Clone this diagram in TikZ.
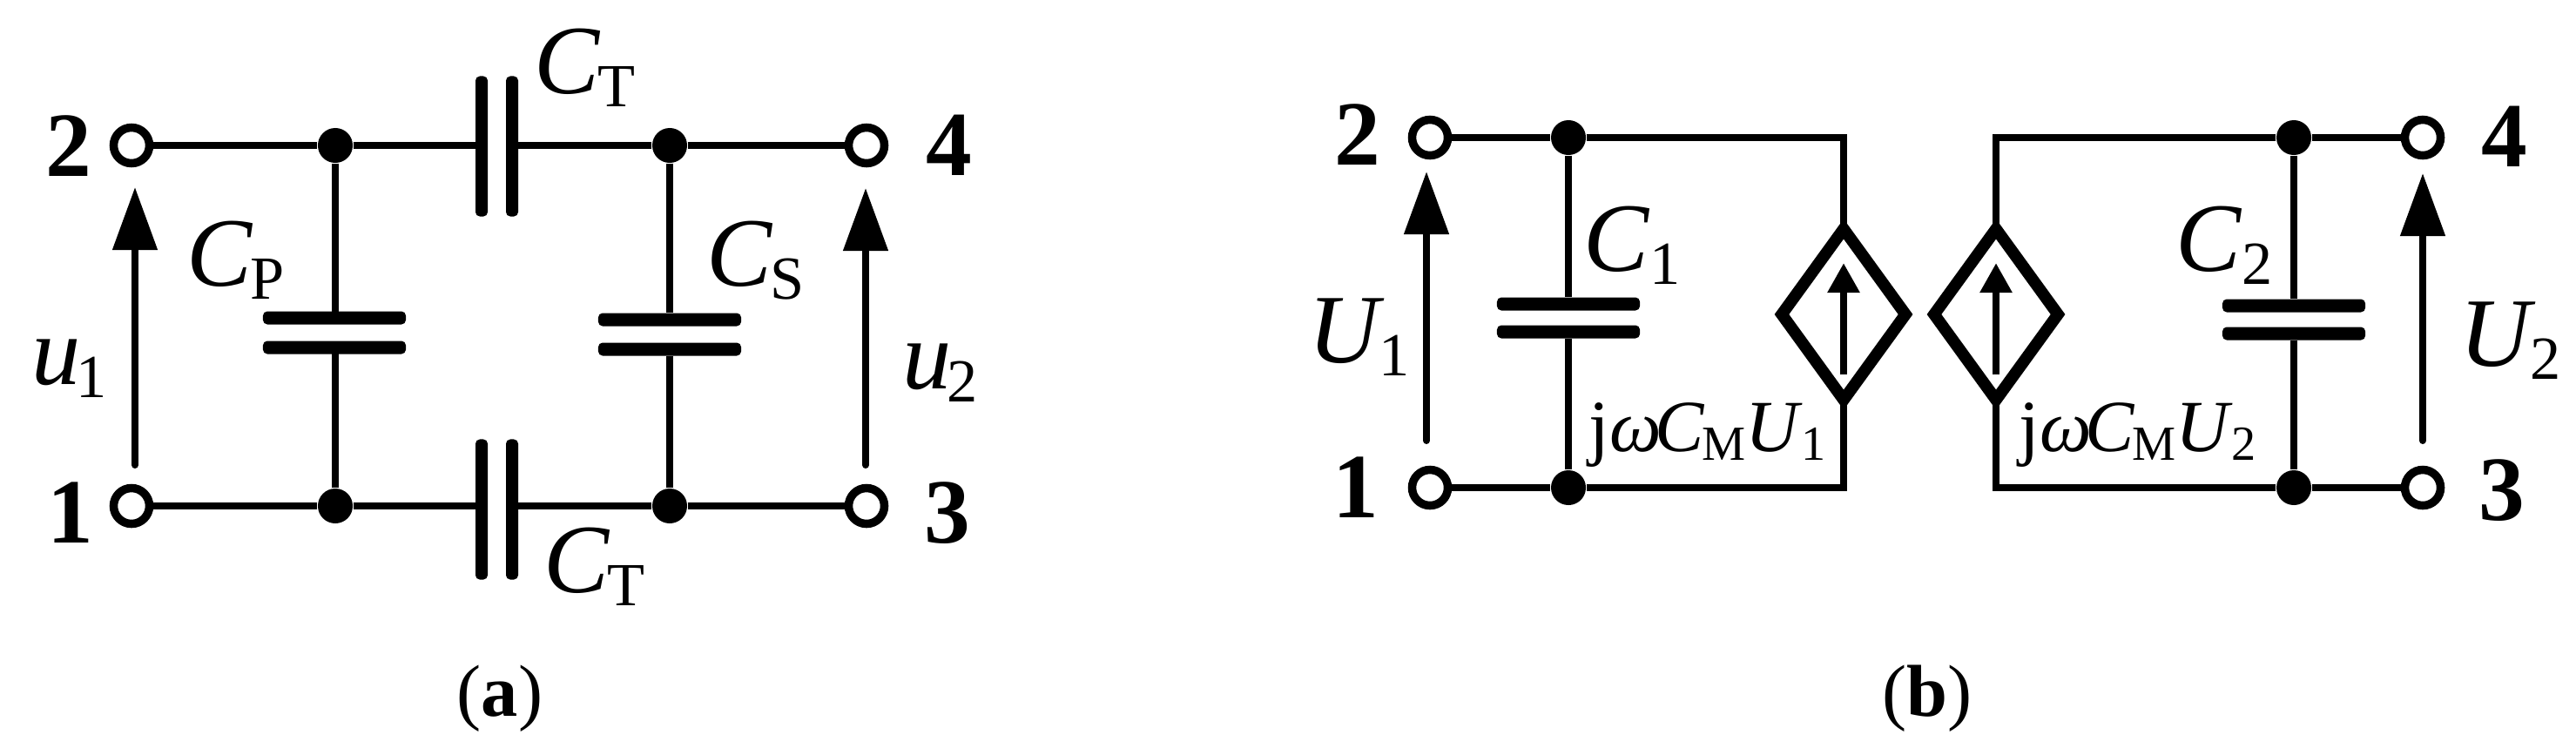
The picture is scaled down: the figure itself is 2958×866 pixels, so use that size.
\documentclass[tikz,border=0pt]{standalone}
\usepackage{fontspec}
\setmainfont{Liberation Serif}
\usetikzlibrary{arrows.meta,shapes.geometric}
\newcommand{\lab}[2]{{\fontsize{32}{32}\selectfont\textit{#1}\kern-1pt\raisebox{-4.3pt}{\fontsize{20}{20}\selectfont #2}}}
\newcommand{\labit}[3][0pt]{{\fontsize{32}{32}\selectfont\textit{#2}\kern#1\raisebox{-4.3pt}{\fontsize{20}{20}\selectfont #3}}}
\newcommand{\src}[1]{{\fontsize{24}{24}\selectfont j\textit{ω}\kern-2pt\textit{C}\kern-1pt\raisebox{-3pt}{\fontsize{16}{16}\selectfont M}\textit{U}\kern-0.5pt\raisebox{-3pt}{\fontsize{16}{16}\selectfont #1}}}
\tikzset{
  wire/.style={line width=0.085cm},
  volt/.style={line width=0.08cm,line cap=round,-{Triangle[length=0.72cm,width=0.5cm]}},
  dot/.style={circle,fill,inner sep=0pt,minimum size=0.40cm},
  term/.style={circle,draw,fill=white,line width=0.095cm,inner sep=0pt,minimum size=0.41cm},
  plateh/.style={rectangle,fill,rounded corners=0.05cm,inner sep=0pt,minimum width=1.64cm,minimum height=0.15cm},
  platev/.style={rectangle,fill,rounded corners=0.05cm,inner sep=0pt,minimum width=0.14cm,minimum height=1.61cm},
  source/.style={diamond,draw,line width=0.135cm,inner sep=0pt,outer sep=0pt,minimum width=1.42cm,minimum height=1.96cm},
  txt/.style={anchor=base west,inner sep=0pt},
  num/.style={anchor=base west,inner sep=0pt,font=\fontsize{30}{30}\selectfont\bfseries},
  capt/.style={anchor=base,inner sep=0pt,font=\fontsize{24}{24}\selectfont}
}
\begin{document}
\begin{tikzpicture}[x=0.01cm,y=-0.01cm]
    \useasboundingbox (0,0) rectangle (2958,866);

    % circuit (a)
    \node (a2) at (151,167) [term] {};
    \node (a1) at (151,581) [term] {};
    \node (a4) at (995,167) [term] {};
    \node (a3) at (995,581) [term] {};
    \node (jp) at (385,167) [dot] {};
    \node (jq) at (385,581) [dot] {};
    \node (js) at (769,167) [dot] {};
    \node (jt) at (769,581) [dot] {};
    \node (ta) at (553,168) [platev] {};
    \node (tb) at (588,168) [platev] {};
    \node (ba) at (553,585) [platev] {};
    \node (bb) at (588,585) [platev] {};
    \node (pa) at (384,365) [plateh] {};
    \node (pb) at (384,399) [plateh] {};
    \node (sa) at (769,367) [plateh] {};
    \node (sb) at (769,401) [plateh] {};
    \coordinate (ua) at (155,534);
    \coordinate (ub) at (155,215);
    \coordinate (uc) at (994,534);
    \coordinate (ud) at (994,216);

    \draw [wire] (a2) -- (jp) (jp) -- (ta |- jp) (tb |- js) -- (js) (js) -- (a4);
    \draw [wire] (a1) -- (jq) (jq) -- (ba |- jq) (bb |- jt) -- (jt) (jt) -- (a3);
    \draw [wire] (jp) -- (jp |- pa) (jq |- pb) -- (jq);
    \draw [wire] (js) -- (sa) (sb) -- (jt);
    \draw [volt] (ua) -- (ub);
    \draw [volt] (uc) -- (ud);

    \node (n2) at (52,202) [num] {2};
    \node (n1) at (54,623) [num] {1};
    \node (n4) at (1063,201) [num] {4};
    \node (n3) at (1061,623) [num] {3};
    \node (ct) at (613,107) [txt] {\lab{C}{T}};
    \node (cb) at (624,680) [txt] {\lab{C}{T}};
    \node (cp) at (214,328) [txt] {\lab{C}{P}};
    \node (cs) at (811,328) [txt] {\lab{C}{S}};
    \node (u1) at (36,441) [txt] {\labit[-1.5pt]{u}{1}};
    \node (u2) at (1036,446) [txt] {\labit[-1.5pt]{u}{2}};
    \node (capa) at (574,822) [capt] {(\textbf{a})};

    % circuit (b)
    \node (b2) at (1642,158) [term] {};
    \node (b1) at (1642,560) [term] {};
    \node (b4) at (2782,158) [term] {};
    \node (b3) at (2782,560) [term] {};
    \node (jc) at (1801,158) [dot] {};
    \node (jd) at (1801,560) [dot] {};
    \node (je) at (2634,158) [dot] {};
    \node (jf) at (2634,560) [dot] {};
    \node (ca) at (1801,349) [plateh] {};
    \node (cc) at (1801,381) [plateh] {};
    \node (da) at (2634,351) [plateh] {};
    \node (dc) at (2634,383) [plateh] {};
    \node (sl) at (2117,361) [source] {};
    \node (sr) at (2292,361) [source] {};
    \coordinate (va) at (1638,506);
    \coordinate (vb) at (1638,197);
    \coordinate (vc) at (2782,506);
    \coordinate (vd) at (2782,199);
    \coordinate (ia) at (2117,430);
    \coordinate (ib) at (2117,302);
    \coordinate (ic) at (2292,430);
    \coordinate (id) at (2292,302);

    \draw [wire] (b2) -- (jc) (b1) -- (jd);
    \draw [wire] (jc) -| (sl.north);
    \draw [wire] (sl.south) |- (jd);
    \draw [wire] (b4) -- (je) (b3) -- (jf);
    \draw [wire] (je) -| (sr.north);
    \draw [wire] (sr.south) |- (jf);
    \draw [wire] (jc) -- (ca) (cc) -- (jd);
    \draw [wire] (je) -- (da) (dc) -- (jf);
    \draw [volt] (va) -- (vb);
    \draw [volt] (vc) -- (vd);
    \draw [wire,-{Triangle[length=0.34cm,width=0.35cm]}] (ia) -- (ib);
    \draw [wire,-{Triangle[length=0.34cm,width=0.35cm]}] (ic) -- (id);

    \node (m2) at (1532,189) [num] {2};
    \node (m1) at (1530,594) [num] {1};
    \node (m4) at (2849,191) [num] {4};
    \node (m3) at (2846,597) [num] {3};
    \node (c1) at (1818,311) [txt] {\labit{C}{1}};
    \node (c2) at (2498,311) [txt] {\labit{C}{2}};
    \node (u3) at (1502,416) [txt] {\labit[-2pt]{U}{1}};
    \node (u4) at (2824,420) [txt] {\labit[-2pt]{U}{2}};
    \node (g1) at (1824,518) [txt] {\src{1}};
    \node (g2) at (2318,518) [txt] {\src{2}};
    \node (capb) at (2213,822) [capt] {(\textbf{b})};
\end{tikzpicture}
\end{document}
